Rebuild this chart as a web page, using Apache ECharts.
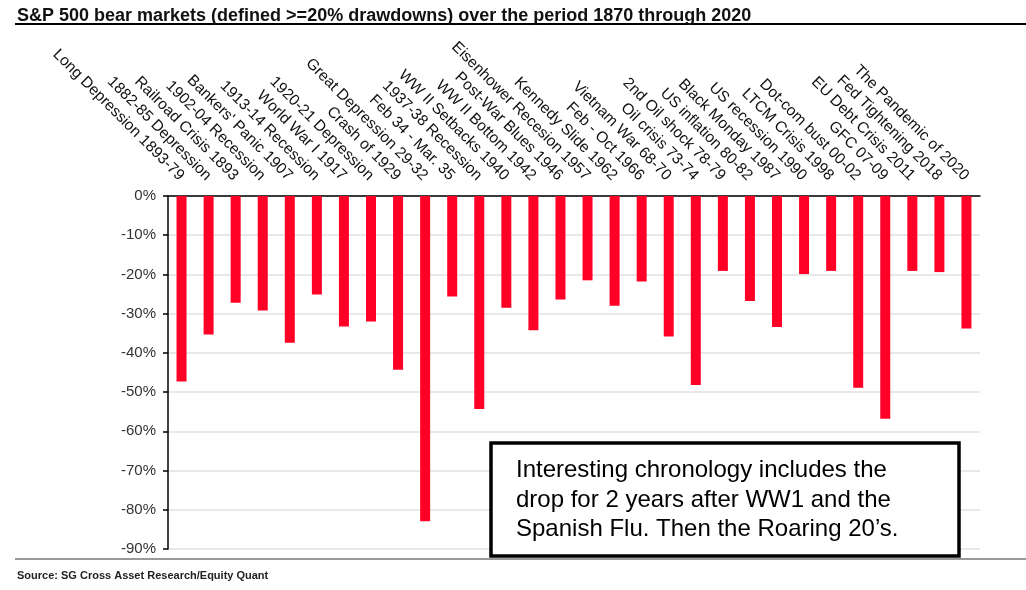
<!DOCTYPE html>
<html>
<head>
<meta charset="utf-8">
<script src="https://cdn.jsdelivr.net/npm/echarts@6/dist/echarts.min.js"></script>
<style>
  html, body { margin: 0; padding: 0; background: #fff; }
  #chart { width: 1026px; height: 590px; }
</style>
</head>
<body>
<div id="chart"></div>
<script>
// bear markets, drawdown in %
var episodes = [
    'Long Depression 1893-79', '1882-85 Depression', 'Railroad Crisis 1893', '1902-04 Recession',
    "Bankers' Panic 1907", '1913-14 Recession', 'World War I 1917', '1920-21 Depression',
    'Crash of 1929', 'Great Depression 29-32', 'Feb 34 - Mar. 35', '1937-38 Recession',
    'WW II Setbacks 1940', 'WW II Bottom 1942', 'Post-War Blues 1946', 'Eisenhower Recesion 1957',
    'Kennedy Slide 1962', 'Feb - Oct 1966', 'Vietnam War 68-70', 'Oil crisis 73-74',
    '2nd Oil shock 78-79', 'US inflation 80-82', 'Black Monday 1987', 'US recession 1990',
    'LTCM Crisis 1998', 'Dot-com bust 00-02', 'GFC 07-09', 'EU Debt Crisis 2011',
    'Fed Tightening 2018', 'The Pandemic of 2020'
];
var drawdowns = [
    -47.3, -35.3, -27.2, -29.2, -37.4, -25.1, -33.3, -32.0,
    -44.3, -82.9, -25.6, -54.3, -28.5, -34.2, -26.4, -21.5,
    -28.0, -21.8, -35.8, -48.2, -19.1, -26.8, -33.4, -19.9,
    -19.1, -48.9, -56.8, -19.1, -19.4, -33.8
];
var yTicks = [0, -10, -20, -30, -40, -50, -60, -70, -80, -90];

var titleText = 'S&P 500 bear markets (defined >=20% drawdowns) over the period 1870 through 2020';
var sourceText = 'Source: SG Cross Asset Research/Equity Quant';
var noteLines = [
    'Interesting chronology includes the',
    'drop for 2 years after WW1 and the',
    'Spanish Flu. Then the Roaring 20\u2019s.'
];

var font = '"Liberation Sans", Arial, sans-serif';
var chart = echarts.init(document.getElementById('chart'));

var option = {
    animation: false,
    textStyle: { fontFamily: font },
    title: {
        text: titleText,
        left: 12,
        top: 2,
        textStyle: { fontSize: 18, fontWeight: 'bold', color: '#111', fontFamily: font }
    },
    grid: { left: 168, right: 46, top: 196, bottom: 41 },
    xAxis: {
        type: 'category',
        position: 'top',
        data: episodes,
        axisLine: { lineStyle: { color: '#000', width: 1.5 } },
        axisTick: { inside: true, length: 5, lineStyle: { color: '#000', width: 1.5 } },
        axisLabel: {
            rotate: -45,
            interval: 0,
            margin: 18,
            fontSize: 15.5,
            color: '#111',
            fontFamily: font
        }
    },
    yAxis: {
        type: 'value',
        min: -90,
        max: 0,
        interval: 10,
        axisLine: { show: true, lineStyle: { color: '#000', width: 1.5 } },
        axisTick: { show: true, length: 5, lineStyle: { color: '#000', width: 1.5 } },
        axisLabel: {
            fontSize: 15,
            color: '#333',
            margin: 12,
            fontFamily: font,
            formatter: function (v) { return yTicks.indexOf(v) >= 0 ? v + '%' : ''; }
        },
        splitLine: { lineStyle: { color: '#e0e0e0', width: 1.5 } }
    },
    series: [{
        type: 'bar',
        data: drawdowns,
        barWidth: 10,
        itemStyle: { color: '#ff0027' }
    }],
    graphic: [
        {
            type: 'line',
            shape: { x1: 15, y1: 24, x2: 1026, y2: 24 },
            style: { stroke: '#000', lineWidth: 2 }
        },
        {
            type: 'line',
            shape: { x1: 15, y1: 559, x2: 1026, y2: 559 },
            style: { stroke: '#777', lineWidth: 1.5 }
        },
        {
            type: 'text',
            left: 17,
            top: 570,
            style: { text: sourceText, font: 'bold 11px ' + font, fill: '#222' }
        },
        {
            type: 'rect',
            shape: { x: 491, y: 443, width: 468, height: 113 },
            style: { fill: '#fff', stroke: '#000', lineWidth: 3.5 },
            z: 10
        },
        {
            type: 'text',
            x: 516,
            y: 456,
            style: {
                text: noteLines.join('\n'),
                font: '24px ' + font,
                lineHeight: 29.5,
                fill: '#000',
                verticalAlign: 'top'
            },
            z: 11
        }
    ]
};

chart.setOption(option);
</script>
</body>
</html>
